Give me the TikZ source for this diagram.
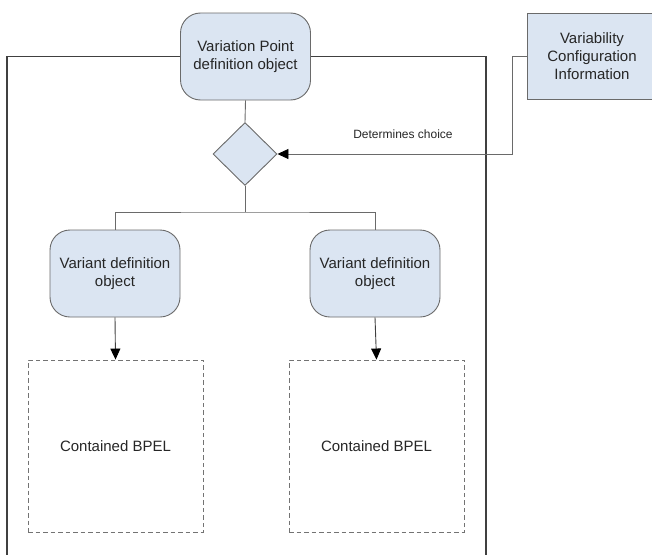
\documentclass[tikz,border=0pt]{standalone}
\usepackage{fontspec}
\setmainfont{Liberation Sans}
\usetikzlibrary{shapes.geometric,arrows.meta}
\definecolor{boxblue}{HTML}{DBE5F2}
\definecolor{edgegray}{HTML}{6A6A6A}
\begin{document}
\begin{tikzpicture}[x=1pt,y=-1pt,
  rbox/.style={draw=edgegray, fill=boxblue, rounded corners=20pt, minimum width=130pt, minimum height=87pt, align=center, font=\fontsize{15}{18}\selectfont, line width=0.9pt, inner sep=0pt, text=black!85},
  sbox/.style={draw=edgegray, fill=boxblue, minimum width=130pt, minimum height=86pt, align=center, font=\fontsize{15}{18}\selectfont, line width=0.9pt, inner sep=0pt, text=black!85},
  dbox/.style={draw=black!55, dash pattern=on 4.5pt off 3pt, minimum width=175pt, minimum height=172pt, font=\fontsize{15}{18}\selectfont, line width=0.9pt, inner sep=0pt, text=black!85},
  dia/.style={diamond, draw=edgegray, fill=boxblue, minimum width=64pt, minimum height=63pt, inner sep=0pt, aspect=1, line width=0.9pt},
  conn/.style={draw=edgegray, line width=0.9pt},
  darkconn/.style={draw=black!75, line width=0.9pt},
  frameline/.style={draw=black!75, line width=1.2pt},
  tip/.style={-{Triangle[length=11pt,width=10pt,color=black,fill=black]}},
  lbl/.style={font=\fontsize{12}{14}\selectfont, text=black!85}]
\useasboundingbox (0,0) rectangle (652,554);
\node[rbox] (top) at (245.5,56.5) {Variation Point\\definition object};
\node[sbox] (vc) at (592,56) {Variability\\Configuration\\Information};
\node[dia] (d) at (245,154) {};
\node[rbox] (v1) at (115,273.5) {Variant definition\\object};
\node[rbox] (v2) at (375,273.5) {Variant definition\\object};
\node[dbox] (c1) at (115.5,446) {Contained BPEL};
\node[dbox] (c2) at (376.5,446) {Contained BPEL};
\coordinate (fl) at (7,56.5);
\coordinate (flb) at (7,560);
\coordinate (fr) at (486,56.5);
\coordinate (frb) at (486,560);
\draw[frameline] (top.west) -- (fl) -- (flb);
\draw[frameline] (top.east) -- (fr) -- (frb);
\draw[conn] (top.south) -- (d.north);
\coordinate (j) at (245,212);
\draw[conn] (d.south) -- (j);
\draw[conn] (v1.north) |- (j) -| (v2.north);
\coordinate (k) at (512,56);
\draw[conn, tip] (vc.west) -- (k) |- (d.east);
\node[lbl] (lab) at (403,134) {Determines choice};
\draw[darkconn, tip] (v1.south) -- (c1.north);
\draw[darkconn, tip] (v2.south) -- (c2.north);
\end{tikzpicture}
\end{document}
